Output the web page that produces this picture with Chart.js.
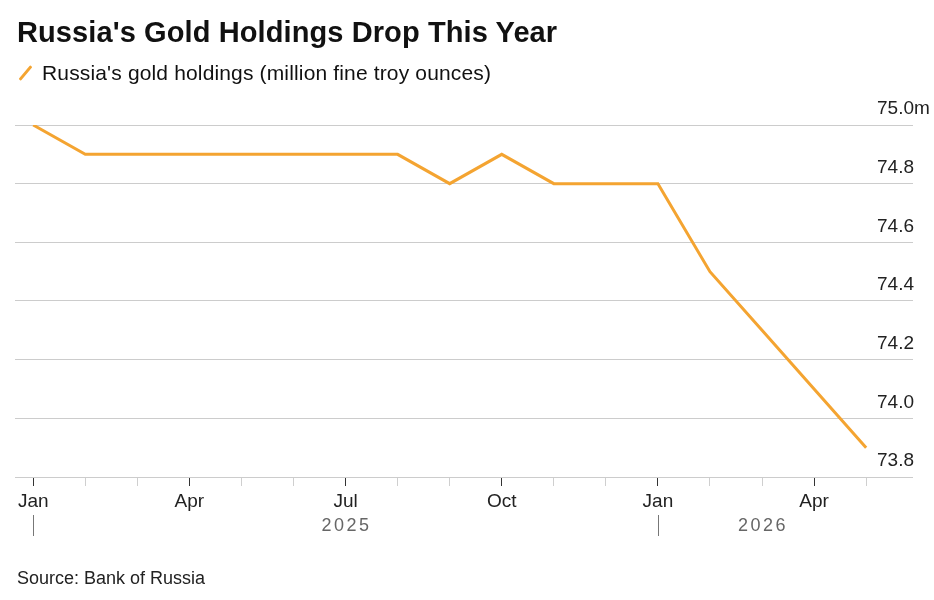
<!DOCTYPE html>
<html lang="en">
<head>
    <meta charset="UTF-8">
    <title>Russia's Gold Holdings Drop This Year</title>
    <script src="https://cdn.jsdelivr.net/npm/chart.js"></script>
    <style>
        body {
            margin: 0;
            background: #ffffff;
            font-family: "Liberation Sans", Arial, sans-serif;
            color: #111;
        }
        .wrap {
            position: relative;
            width: 934px;
            height: 600px;
            overflow: hidden;
        }
        #chart {
            position: absolute;
            left: 0;
            top: 0;
        }
        .title {
            position: absolute;
            left: 17px;
            top: 18px;
            font-size: 29px;
            font-weight: bold;
            line-height: 29px;
            letter-spacing: 0.1px;
            white-space: nowrap;
        }
        .legend {
            position: absolute;
            left: 17px;
            top: 61px;
            font-size: 21px;
            line-height: 24px;
            letter-spacing: 0.15px;
            white-space: nowrap;
        }
        .legend .swatch {
            display: inline-block;
            width: 3px;
            height: 18px;
            background: #F4A431;
            transform: rotate(40deg);
            margin: 0 15px 0 7px;
            vertical-align: -2px;
            border-radius: 1px;
        }
        .source {
            position: absolute;
            left: 17px;
            top: 567px;
            font-size: 18px;
            line-height: 22px;
            color: #222;
        }
    </style>
</head>
<body>
<div class="wrap">
    <canvas id="chart" width="934" height="600"></canvas>
    <div class="title">Russia's Gold Holdings Drop This Year</div>
    <div class="legend"><span class="swatch"></span>Russia's gold holdings (million fine troy ounces)</div>
    <div class="source">Source: Bank of Russia</div>
</div>

<script>
    // monthly data, Jan 2025 - May 2026
    const months = ['Jan', 'Feb', 'Mar', 'Apr', 'May', 'Jun', 'Jul', 'Aug', 'Sep', 'Oct', 'Nov', 'Dec',
                    'Jan', 'Feb', 'Mar', 'Apr', 'May'];
    const years = [2025, 2025, 2025, 2025, 2025, 2025, 2025, 2025, 2025, 2025, 2025, 2025,
                   2026, 2026, 2026, 2026, 2026];
    const holdings = [75.0, 74.9, 74.9, 74.9, 74.9, 74.9, 74.9, 74.9, 74.8, 74.9, 74.8, 74.8,
                      74.8, 74.5, 74.3, 74.1, 73.9];
    const labeledMonths = ['Jan', 'Apr', 'Jul', 'Oct'];
    const yTicks = [73.8, 74.0, 74.2, 74.4, 74.6, 74.8, 75.0];

    const ORANGE = '#F4A431';
    const FONT = '"Liberation Sans", Arial, sans-serif';

    // y labels sit above their gridline, right aligned
    const yLabelPlugin = {
        id: 'yLabels',
        afterDraw(chart) {
            const ctx = chart.ctx;
            const y = chart.scales.y;
            const right = chart.chartArea.right + 1;
            ctx.save();
            ctx.font = '19px ' + FONT;
            ctx.fillStyle = '#222';
            ctx.textBaseline = 'middle';
            yTicks.forEach((v, i) => {
                const py = y.getPixelForValue(v) - 16;
                ctx.textAlign = 'right';
                ctx.fillText(v.toFixed(1), right, py);
                if (i === yTicks.length - 1) {
                    ctx.textAlign = 'left';
                    ctx.fillText('m', right, py);
                }
            });
            ctx.restore();
        }
    };

    // year row under the month labels
    const yearPlugin = {
        id: 'yearRow',
        afterDraw(chart) {
            const ctx = chart.ctx;
            const x = chart.scales.x;
            const top = chart.chartArea.bottom;
            ctx.save();
            ctx.font = '18px ' + FONT;
            ctx.fillStyle = '#666';
            ctx.textAlign = 'center';
            ctx.textBaseline = 'middle';
            if ('letterSpacing' in ctx) ctx.letterSpacing = '2.5px';
            const uniq = [...new Set(years)];
            uniq.forEach(yr => {
                const first = years.indexOf(yr);
                const end = Math.min(first + 12, years.length - 1);
                const center = (first + end) / 2;
                ctx.fillText(String(yr), x.getPixelForValue(center) + 1, top + 49);
                // separator at start of year
                const sx = Math.round(x.getPixelForValue(first)) + 0.5;
                ctx.strokeStyle = '#777';
                ctx.lineWidth = 1;
                ctx.beginPath();
                ctx.moveTo(sx, top + 38);
                ctx.lineTo(sx, top + 59);
                ctx.stroke();
            });
            ctx.restore();
        }
    };

    new Chart(document.getElementById('chart'), {
        type: 'line',
        data: {
            datasets: [{
                label: "Russia's gold holdings (million fine troy ounces)",
                data: holdings.map((v, i) => ({ x: i, y: v })),
                borderColor: ORANGE,
                borderWidth: 3,
                pointRadius: 0,
                tension: 0,
                fill: false
            }]
        },
        options: {
            responsive: false,
            animation: false,
            events: [],
            layout: {
                padding: { top: 125, left: 15, right: 21, bottom: 83 }
            },
            plugins: {
                legend: { display: false },
                tooltip: { enabled: false },
                title: { display: false }
            },
            scales: {
                x: {
                    type: 'linear',
                    min: -0.35,
                    max: 16.9,
                    afterBuildTicks: s => { s.ticks = months.map((m, i) => ({ value: i })); },
                    afterFit: s => { s.height = 40; },
                    border: { display: false },
                    grid: {
                        drawOnChartArea: false,
                        drawTicks: true,
                        tickLength: 9,
                        tickWidth: 1,
                        tickColor: c => labeledMonths.includes(months[c.tick.value]) ? '#333' : '#cfcfcf'
                    },
                    ticks: {
                        autoSkip: false,
                        maxRotation: 0,
                        padding: 4,
                        color: '#222',
                        font: { family: FONT, size: 19 },
                        callback: v => labeledMonths.includes(months[v]) ? months[v] : ''
                    }
                },
                y: {
                    position: 'right',
                    min: 73.8,
                    max: 75.0,
                    afterBuildTicks: s => { s.ticks = yTicks.map(v => ({ value: v })); },
                    afterFit: s => { s.width = 0; },
                    border: { display: false },
                    grid: {
                        color: '#cccccc',
                        lineWidth: 1,
                        drawTicks: false
                    },
                    ticks: { display: false }
                }
            }
        },
        plugins: [yLabelPlugin, yearPlugin]
    });
</script>
</body>
</html>
